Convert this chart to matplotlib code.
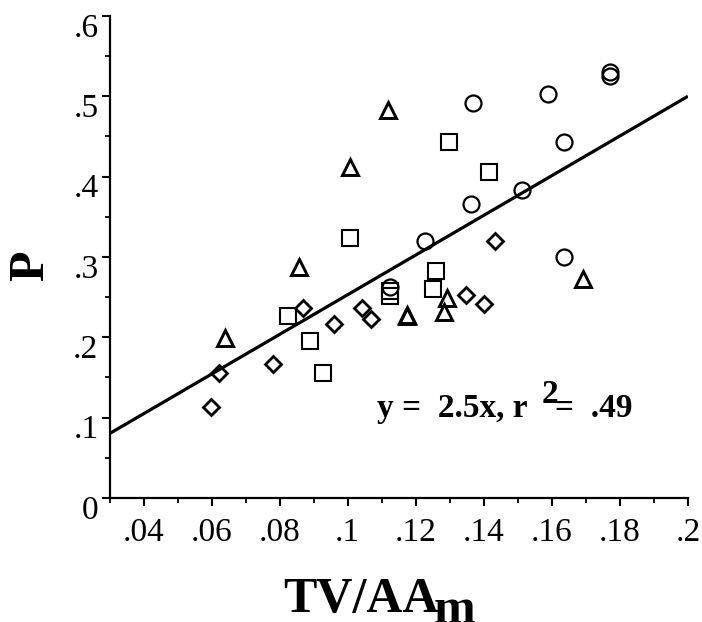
import numpy as np
import matplotlib.pyplot as plt
import matplotlib.transforms as mtransforms
from matplotlib.ticker import MultipleLocator, FixedLocator

plt.rcParams['font.family'] = ['Liberation Serif', 'DejaVu Serif']

# data
circle_x = [0.1123, 0.1227, 0.1361, 0.1368, 0.1511, 0.1590, 0.1636, 0.1636, 0.1770, 0.1770]
circle_y = [0.263, 0.320, 0.366, 0.492, 0.383, 0.503, 0.443, 0.300, 0.530, 0.525]

square_x = [0.0825, 0.0889, 0.0928, 0.1007, 0.1123, 0.1125, 0.1251, 0.1260, 0.1299, 0.1416]
square_y = [0.227, 0.196, 0.156, 0.324, 0.258, 0.252, 0.260, 0.283, 0.443, 0.406]

triangle_x = [0.0639, 0.0858, 0.1007, 0.1118, 0.1173, 0.1175, 0.1284, 0.1293, 0.1692]
triangle_y = [0.199, 0.288, 0.412, 0.483, 0.228, 0.226, 0.232, 0.249, 0.272]

diamond_x = [0.0598, 0.0623, 0.0780, 0.0868, 0.0960, 0.1041, 0.1068, 0.1348, 0.1401, 0.1433]
diamond_y = [0.113, 0.156, 0.167, 0.236, 0.216, 0.236, 0.223, 0.253, 0.242, 0.320]

# fitted line
slope = 2.47
intercept = 0.006

fig = plt.figure(figsize=(7.02, 6.22), dpi=100)
ax = fig.add_axes([0.156, 0.1994, 0.824, 0.775])

xs = np.array([0.03, 0.2])
ax.plot(xs, slope * xs + intercept, color='black', lw=2.3, solid_capstyle='butt', zorder=1)

ax.plot(circle_x, circle_y, 'o', ms=11.5, mfc='none', mec='black', mew=1.6, zorder=3)
ax.plot(square_x, square_y, 's', ms=11.5, mfc='none', mec='black', mew=1.5, zorder=3)
ax.plot(triangle_x, triangle_y, '^', ms=11.5, mfc='none', mec='black', mew=2.1, zorder=3)
ax.plot(diamond_x, diamond_y, 'D', ms=8.3, mfc='none', mec='black', mew=2.0, zorder=3)

ax.set_xlim(0.03, 0.2)
ax.set_ylim(0, 0.6)

for s in ['top', 'right']:
    ax.spines[s].set_visible(False)
for s in ['left', 'bottom']:
    ax.spines[s].set_linewidth(1.6)

ax.xaxis.set_major_locator(FixedLocator([0.04, 0.06, 0.08, 0.1, 0.12, 0.14, 0.16, 0.18, 0.2]))
ax.xaxis.set_minor_locator(MultipleLocator(0.01))
ax.yaxis.set_major_locator(MultipleLocator(0.1))
ax.yaxis.set_minor_locator(MultipleLocator(0.05))

xlabels = ['.04', '.06', '.08', '.1', '.12', '.14', '.16', '.18', '.2']
ylabels = ['0', '.1', '.2', '.3', '.4', '.5', '.6']
ax.set_xticklabels(xlabels)
ax.set_yticks([0, 0.1, 0.2, 0.3, 0.4, 0.5, 0.6])
ax.set_yticklabels(ylabels)

ax.tick_params(which='major', direction='out', length=6, width=1.5, labelsize=24, colors='black')
ax.tick_params(which='minor', direction='out', length=3.5, width=1.3)
ax.tick_params(axis='x', which='major', pad=8)
ax.tick_params(axis='y', which='major', pad=2)

# y tick labels sit a little below their ticks
shift = mtransforms.ScaledTranslation(0, -9 / 100, fig.dpi_scale_trans)
for lab in ax.get_yticklabels():
    lab.set_transform(lab.get_transform() + shift)

fig.text(0.045, 0.572, 'P', rotation=90, fontsize=36, fontweight='bold',
         ha='center', va='center')
fig.text(0.403, 0.016, 'TV/AA', fontsize=36, fontweight='bold', ha='left', va='baseline')
fig.text(0.617, -0.002, 'm', fontsize=36, fontweight='bold', ha='left', va='baseline')

ax.text(0.1086, 0.1012, 'y =  2.5x, r', fontsize=24, fontweight='bold', ha='left', va='baseline')
ax.text(0.1571, 0.118, '2', fontsize=24, fontweight='bold', ha='left', va='baseline')
ax.text(0.1609, 0.1012, '=  .49', fontsize=24, fontweight='bold', ha='left', va='baseline')

fig.savefig('out.png', dpi=100)
